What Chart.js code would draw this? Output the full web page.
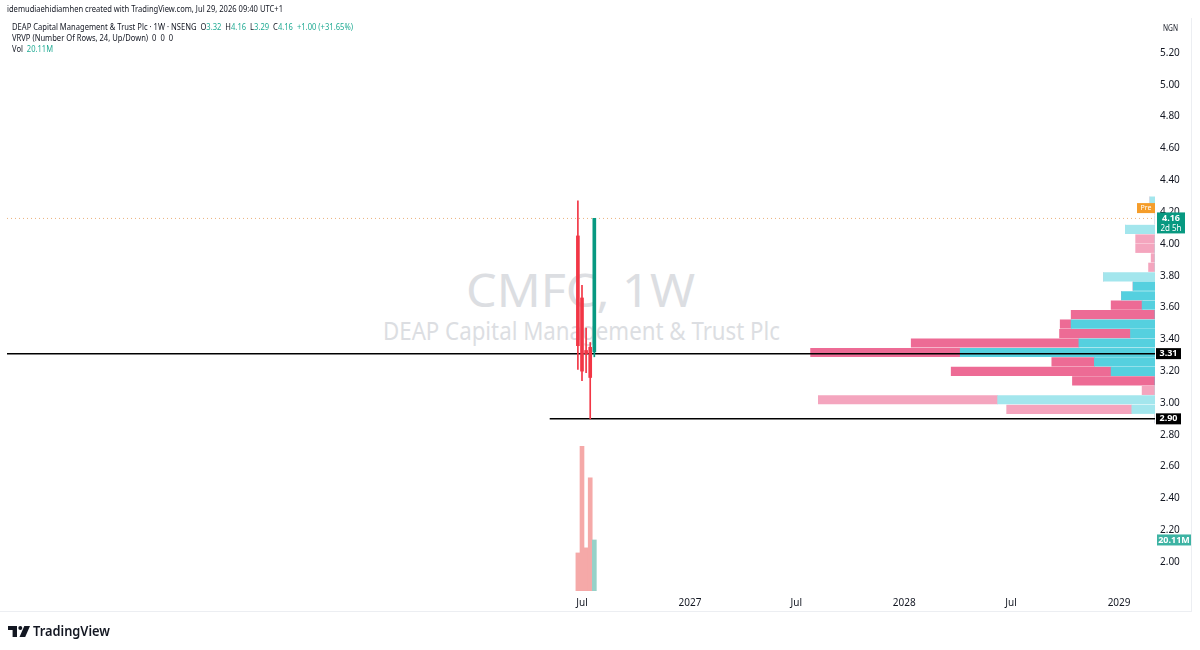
<!DOCTYPE html>
<html lang="en">
<head>
<meta charset="UTF-8">
<title>CMFC 1W</title>
<script src="https://cdn.jsdelivr.net/npm/chart.js"></script>
<style>
    html, body {
        margin: 0;
        padding: 0;
        background: #fff;
    }

    body {
        width: 1200px;
        height: 650px;
        position: relative;
        overflow: hidden;
        font-family: "Noto Sans", sans-serif;
        color: #131722;
    }

    .txt {
        position: absolute;
        white-space: nowrap;
        line-height: 1;
        transform-origin: 0 50%;
        font-size: 9px;
    }

    .g { color: #22ab94; }

    .wm {
        position: absolute;
        white-space: nowrap;
        line-height: 1;
        transform-origin: 0 50%;
        color: #dcdee2;
    }

    #c {
        position: absolute;
        left: 0;
        top: 0;
    }

    .edge { position: absolute; background: #eceef2; }
</style>
</head>
<body>
    <!-- watermark sits under the canvas -->
    <div class="wm" style="left:466px;top:266px;font-size:46px" data-w="229">CMFC, 1W</div>
    <div class="wm" style="left:383px;top:318px;font-size:25px" data-w="397">DEAP Capital Management &amp; Trust Plc</div>

    <div class="edge" style="left:1191px;top:18px;width:1px;height:594px"></div>
    <div class="edge" style="left:0;top:611px;width:1192px;height:1px"></div>

    <canvas id="c" width="1200" height="650"></canvas>

    <div class="txt" style="left:7px;top:4px" data-w="276">idemudiaehidiamhen created with TradingView.com, Jul 29, 2026 09:40 UTC+1</div>
    <div class="txt" id="ohlc" style="left:12px;top:22px" data-w="341"></div>
    <div class="txt" style="left:12px;top:33px" data-w="161">VRVP (Number Of Rows, 24, Up/Down)&nbsp;&nbsp;0&nbsp;&nbsp;0&nbsp;&nbsp;0</div>
    <div class="txt" id="vol" style="left:12px;top:44px" data-w="41"></div>
    <div class="txt" style="left:1163px;top:24px;font-size:8px" data-w="15">NGN</div>

    <svg style="position:absolute;left:8px;top:626px" width="22" height="11" viewBox="0 0 22 11">
        <path d="M0 0H9V11H4.6V4H0Z" fill="#131722"/>
        <circle cx="12.3" cy="2" r="2" fill="#131722"/>
        <path d="M16.3 0H22L17.2 11H11.5Z" fill="#131722"/>
    </svg>
    <div class="txt" style="left:33px;top:624px;font-size:14px;font-weight:600" data-w="77">TradingView</div>

<script>
    // weekly candles
    const candleDates = ['2026-06-24', '2026-07-01', '2026-07-08', '2026-07-15', '2026-07-22'];
    const opens = [4.05, 3.66, 3.33, 3.35, 3.32];
    const highs = [4.27, 3.74, 3.47, 3.38, 4.16];
    const lows = [3.21, 3.14, 3.19, 2.90, 3.29];
    const closes = [3.36, 3.20, 3.31, 3.16, 4.16];
    const volumes = [15.0, 57.0, 17.0, 44.6, 20.11]; // millions

    // volume profile rows (top to bottom), millions
    const vpPrice = [4.269, 4.210, 4.150, 4.091, 4.031, 3.972, 3.912, 3.853, 3.793, 3.734, 3.674, 3.615,
                     3.555, 3.496, 3.436, 3.377, 3.317, 3.258, 3.198, 3.139, 3.079, 3.020, 2.960, 2.901];
    const vpUp = [0.4, 0, 0, 2.3, 0, 0, 0, 0, 4.0, 1.7, 2.6, 1.0,
                  0, 6.5, 1.9, 5.9, 15.1, 4.7, 3.4, 0, 0, 12.2, 1.8, 0];
    const vpDown = [0, 0, 0, 0, 1.5, 1.5, 0.3, 0.5, 0, 0, 0, 2.4,
                    6.5, 0.85, 5.5, 13.0, 11.6, 3.3, 12.4, 6.4, 1.0, 13.9, 9.7, 0];
    const valueAreaHigh = 3.76;
    const valueAreaLow = 3.11;

    // drawn horizontal levels (first one runs from the left edge)
    const levelPrices = [3.31, 2.90];
    const levelStarts = ['2020-01-01', '2026-05-07'];
    const prePrice = 4.225;
    const countdown = '2d 5h';

    // axes
    const priceTicks = [2.0, 2.2, 2.4, 2.6, 2.8, 3.0, 3.2, 3.4, 3.6, 3.8, 4.0, 4.2, 4.4, 4.6, 4.8, 5.0, 5.2];
    const timeTickDates = ['2026-07-01', '2027-01-01', '2027-07-01', '2028-01-01', '2028-07-01', '2029-01-01'];
    const timeTickLabels = ['Jul', '2027', 'Jul', '2028', 'Jul', '2029'];

    function dayNum(s) {
        const p = s.split('-').map(Number);
        return (Date.UTC(p[0], p[1] - 1, p[2]) - Date.UTC(2026, 0, 1)) / 864e5;
    }

    const xMin = -798.6, xMax = 1157.2;
    const candleX = candleDates.map(dayNum);
    const tickX = timeTickDates.map(dayNum);
    const last = closes.length - 1;
    const green = '#089981', red = '#f23645';
    const isUp = closes.map((c, i) => c >= opens[i]);

    // header text from data
    const chg = closes[last] - closes[last - 1];
    const pct = chg / closes[last - 1] * 100;
    document.getElementById('ohlc').innerHTML =
        'DEAP Capital Management &amp; Trust Plc · 1W · NSENG&nbsp;&nbsp;' +
        'O<span class="g">' + opens[last].toFixed(2) + '</span>&nbsp;&nbsp;' +
        'H<span class="g">' + highs[last].toFixed(2) + '</span>&nbsp;&nbsp;' +
        'L<span class="g">' + lows[last].toFixed(2) + '</span>&nbsp;&nbsp;' +
        'C<span class="g">' + closes[last].toFixed(2) + '</span>&nbsp;&nbsp;' +
        '<span class="g">+' + chg.toFixed(2) + ' (+' + pct.toFixed(2) + '%)</span>';
    document.getElementById('vol').innerHTML = 'Vol&nbsp;&nbsp;<span class="g">' + volumes[last].toFixed(2) + 'M</span>';

    document.querySelectorAll('[data-w]').forEach(el => {
        const w = el.getBoundingClientRect().width;
        el.style.transform = 'scaleX(' + (el.dataset.w / w) + ')';
    });

    const inVA = p => p <= valueAreaHigh && p >= valueAreaLow;
    const vpTotals = vpUp.map((u, i) => u + vpDown[i]);
    const vpMax = Math.max(...vpTotals) / 0.30;

    const noPad = s => {
        s.paddingLeft = 0;
        s.paddingRight = 0;
        s.paddingTop = 0;
        s.paddingBottom = 0;
    };

    const labelsPlugin = {
        id: 'labels',
        afterDraw(chart) {
            const ctx = chart.ctx;
            const y = chart.scales.y, yv = chart.scales.yv;
            const r = chart.chartArea.right;
            ctx.save();
            ctx.textBaseline = 'middle';
            ctx.textAlign = 'center';

            // pre-market tag
            let py = y.getPixelForValue(prePrice);
            ctx.fillStyle = '#f59d2a';
            ctx.fillRect(r - 18, py - 5, 18, 10);
            ctx.fillStyle = '#fff';
            ctx.font = '7px "Noto Sans"';
            ctx.fillText('Pre', r - 9, py);

            // last price + countdown
            py = y.getPixelForValue(closes[last]);
            ctx.fillStyle = green;
            ctx.fillRect(r + 2, py - 6, 28, 21);
            ctx.fillStyle = '#fff';
            ctx.font = 'bold 9px "Noto Sans"';
            ctx.fillText(closes[last].toFixed(2), r + 16, py);
            ctx.font = '8px "Noto Sans"';
            ctx.fillText(countdown, r + 16, py + 10);

            // level tags
            ctx.font = 'bold 9px "Noto Sans"';
            levelPrices.forEach(p => {
                const ly = y.getPixelForValue(p);
                ctx.fillStyle = '#000';
                ctx.fillRect(r + 1, ly - 5.5, 25, 11);
                ctx.fillStyle = '#fff';
                ctx.fillText(p.toFixed(2), r + 13.5, ly);
            });

            // volume tag
            const vy = yv.getPixelForValue(volumes[last]);
            ctx.fillStyle = '#3db3a3';
            ctx.fillRect(r + 2, vy - 5.5, 34, 11);
            ctx.fillStyle = '#fff';
            ctx.fillText(volumes[last].toFixed(2) + 'M', r + 19, vy);
            ctx.restore();
        }
    };

    new Chart(document.getElementById('c'), {
        type: 'bar',
        data: {
            datasets: [
                {
                    type: 'bar',
                    label: 'profile up',
                    indexAxis: 'y',
                    xAxisID: 'xp',
                    yAxisID: 'y',
                    data: vpPrice.map((p, i) => ({ y: p, x: [0, vpUp[i]] })),
                    backgroundColor: vpPrice.map(p => inVA(p) ? '#55d0df' : '#a3e6ed'),
                    barThickness: 8.5,
                    grouped: false,
                    order: 5
                },
                {
                    type: 'bar',
                    label: 'profile down',
                    indexAxis: 'y',
                    xAxisID: 'xp',
                    yAxisID: 'y',
                    data: vpPrice.map((p, i) => ({ y: p, x: [vpUp[i], vpUp[i] + vpDown[i]] })),
                    backgroundColor: vpPrice.map(p => inVA(p) ? '#ed6b95' : '#f4a5be'),
                    barThickness: 8.5,
                    grouped: false,
                    order: 5
                },
                {
                    type: 'bar',
                    label: 'volume',
                    xAxisID: 'x',
                    yAxisID: 'yv',
                    data: candleX.map((x, i) => ({ x: x, y: volumes[i] })),
                    backgroundColor: isUp.map(u => u ? '#96d1c8' : '#f5a9a8'),
                    barThickness: 4,
                    grouped: false,
                    order: 4
                },
                {
                    type: 'line',
                    label: 'last price',
                    xAxisID: 'x',
                    yAxisID: 'y',
                    data: [{ x: xMin, y: closes[last] }, { x: xMax, y: closes[last] }],
                    borderColor: 'rgba(225,150,80,0.75)',
                    borderWidth: 1,
                    borderDash: [1, 3],
                    pointRadius: 0,
                    order: 3
                },
                ...levelPrices.map((p, k) => ({
                    type: 'line',
                    label: 'level ' + p,
                    xAxisID: 'x',
                    yAxisID: 'y',
                    data: [{ x: Math.max(dayNum(levelStarts[k]), xMin), y: p }, { x: xMax, y: p }],
                    borderColor: '#000',
                    borderWidth: 1.5,
                    pointRadius: 0,
                    order: 2
                })),
                {
                    type: 'bar',
                    label: 'wicks',
                    xAxisID: 'x',
                    yAxisID: 'y',
                    data: candleX.map((x, i) => ({ x: x, y: [lows[i], highs[i]] })),
                    backgroundColor: isUp.map(u => u ? green : red),
                    barThickness: 1,
                    grouped: false,
                    order: 1
                },
                {
                    type: 'bar',
                    label: 'bodies',
                    xAxisID: 'x',
                    yAxisID: 'y',
                    data: candleX.map((x, i) => ({ x: x, y: [opens[i], closes[i]] })),
                    backgroundColor: isUp.map(u => u ? green : red),
                    barThickness: 3,
                    grouped: false,
                    order: 0
                }
            ]
        },
        options: {
            responsive: false,
            animation: false,
            events: [],
            layout: { padding: { left: 7, top: 20, right: 0, bottom: 39 } },
            plugins: {
                legend: { display: false },
                tooltip: { enabled: false }
            },
            scales: {
                x: {
                    type: 'linear',
                    offset: false,
                    min: xMin,
                    max: xMax,
                    grid: { display: false, drawTicks: false },
                    border: { display: false },
                    afterBuildTicks: s => { s.ticks = tickX.map(v => ({ value: v })); },
                    afterFit: s => { s.height = 20; noPad(s); },
                    ticks: {
                        autoSkip: false,
                        maxRotation: 0,
                        padding: 6,
                        color: '#131722',
                        font: { family: 'Noto Sans', size: 10 },
                        callback: v => timeTickLabels[tickX.indexOf(v)]
                    }
                },
                y: {
                    type: 'linear',
                    position: 'right',
                    offset: false,
                    min: 1.8177,
                    max: 5.4075,
                    grid: { display: false, drawTicks: false },
                    border: { display: false },
                    afterBuildTicks: s => { s.ticks = priceTicks.map(v => ({ value: v })); },
                    afterFit: s => { s.width = 45; noPad(s); },
                    ticks: {
                        padding: 5,
                        color: '#131722',
                        font: { family: 'Noto Sans', size: 10 },
                        callback: v => v.toFixed(2)
                    }
                },
                yv: {
                    type: 'linear',
                    display: false,
                    offset: false,
                    min: 0,
                    max: 225
                },
                xp: {
                    type: 'linear',
                    display: false,
                    offset: false,
                    reverse: true,
                    min: 0,
                    max: vpMax
                }
            }
        },
        plugins: [labelsPlugin]
    });
</script>
</body>
</html>
